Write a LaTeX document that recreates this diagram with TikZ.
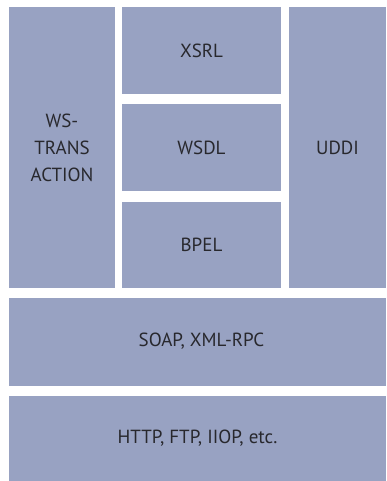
\documentclass[tikz,border=0pt]{standalone}
\usepackage{fontspec}
\setmainfont{PT Sans}
\definecolor{boxfill}{RGB}{152,162,194}
\definecolor{txt}{RGB}{40,40,45}
\begin{document}
\begin{tikzpicture}[x=1pt,y=-1pt,
  layer/.style={fill=boxfill,draw=none},
  lbl/.style={text=txt,font=\fontsize{19}{27}\selectfont,align=center,inner sep=0pt}]
\useasboundingbox (0,0) rectangle (386,481);
\fill[white] (0,0) rectangle (386,481);
\path[layer] (9,7) rectangle (115,288);
\path[layer] (122,7) rectangle (281,94);
\path[layer] (122,104) rectangle (281,191);
\path[layer] (122,202) rectangle (281,288);
\path[layer] (289,7) rectangle (386,288);
\path[layer] (9,298) rectangle (386,386);
\path[layer] (9,396) rectangle (386,481);
\node[lbl] (ws) at (62,147.5) {WS-\\TRANS\\ACTION};
\node[lbl] (xsrl) at (201.5,50.5) {XSRL};
\node[lbl] (wsdl) at (201.5,147.5) {WSDL};
\node[lbl] (bpel) at (201.5,245) {BPEL};
\node[lbl] (uddi) at (337.5,147.5) {UDDI};
\node[lbl] (soap) at (201.5,341) {SOAP, XML-RPC};
\node[lbl] (http) at (197.5,438.5) {HTTP, FTP, IIOP, etc.};
\end{tikzpicture}
\end{document}
